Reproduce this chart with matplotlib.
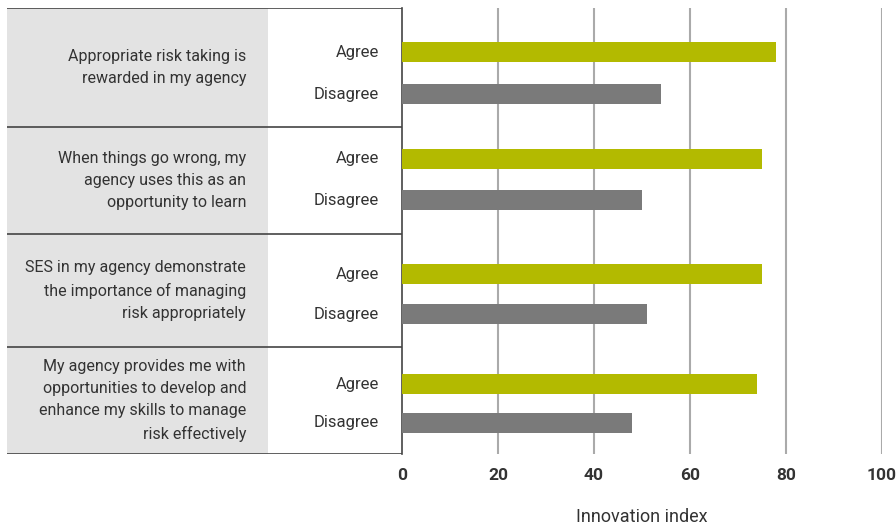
import matplotlib
matplotlib.use('Agg')
import matplotlib.pyplot as plt

# data
questions = [
    'Appropriate risk taking is\nrewarded in my agency',
    'When things go wrong, my\nagency uses this as an\nopportunity to learn',
    'SES in my agency demonstrate\nthe importance of managing\nrisk appropriately',
    'My agency provides me with\nopportunities to develop and\nenhance my skills to manage\nrisk effectively',
]
agree = [78, 75, 75, 74]
disagree = [54, 50, 51, 48]
ticks = [0, 20, 40, 60, 80, 100]

# layout (pixels from top of the plot area)
edges = [0, 119, 226, 339, 446]
agree_y = [44, 151, 266, 376]
disagree_y = [86, 192, 306, 415]

plt.rcParams['font.family'] = ['Roboto', 'DejaVu Sans']
txt = '#333333'

W, H = 896, 526
fig = plt.figure(figsize=(W / 100, H / 100), dpi=100)
bottom = 1 - 454 / H
height = 446 / H

# left label panel
axl = fig.add_axes([7 / W, bottom, 395 / W, height])
axl.set_xlim(0, 395)
axl.set_ylim(446, 0)
axl.axis('off')
axl.axvspan(0, 261, color='#e3e3e3', lw=0)
for e in edges:
    axl.axhline(e, color='#444444', lw=1.2)
for i, q in enumerate(questions):
    axl.text(239, (edges[i] + edges[i + 1]) / 2, q, ha='right', va='center',
             fontsize=11.5, color=txt, linespacing=1.6)
    axl.text(372, agree_y[i], 'Agree', ha='right', va='center', fontsize=12, color=txt)
    axl.text(372, disagree_y[i], 'Disagree', ha='right', va='center', fontsize=12, color=txt)

# bars
ax = fig.add_axes([402 / W, bottom, 480 / W, height])
ax.set_xlim(0, 100)
ax.set_ylim(446, 0)
ax.barh(agree_y, agree, height=20, color='#b3ba00', zorder=3)
ax.barh(disagree_y, disagree, height=20, color='#7a7a7a', zorder=3)
for t in ticks[1:]:
    ax.axvline(t, color='#aaaaaa', lw=1.5, zorder=1)
for s in ['top', 'right', 'bottom']:
    ax.spines[s].set_visible(False)
ax.spines['left'].set_color('#444444')
ax.spines['left'].set_linewidth(1.2)
ax.set_yticks([])
ax.set_xticks(ticks)
ax.set_xticklabels([str(t) for t in ticks], fontsize=12.5, fontweight='bold', color=txt)
ax.tick_params(axis='x', length=0, pad=10)
ax.set_xlabel('Innovation index', fontsize=13, color=txt, labelpad=18)

fig.savefig('out.png', dpi=100)
